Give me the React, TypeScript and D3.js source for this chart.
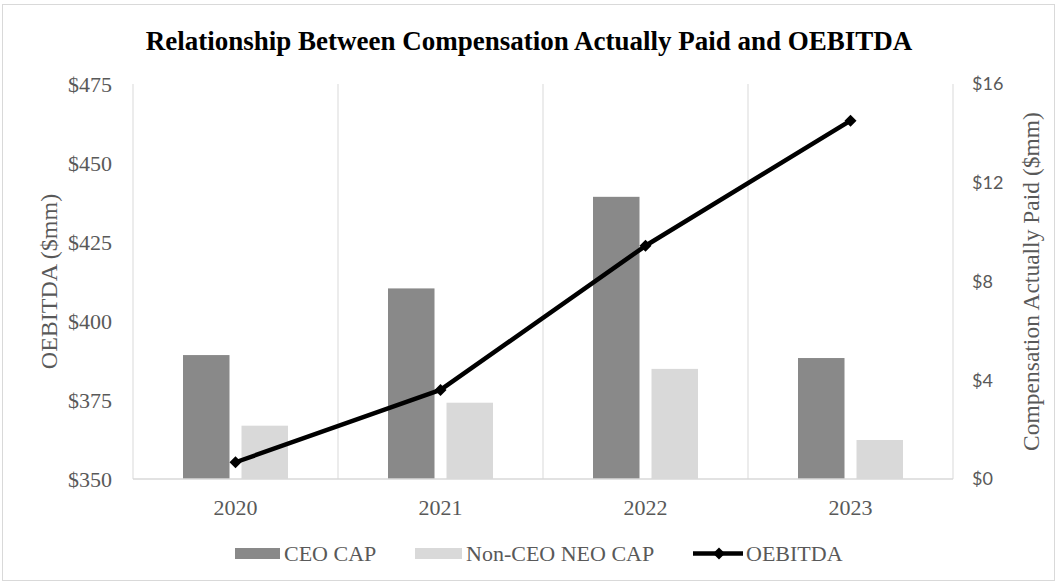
import React, { useRef, useEffect } from 'react'
import * as d3 from 'd3'

const years = ['2020', '2021', '2022', '2023']
const ceoCap = [5.02, 7.72, 11.43, 4.9]
const nonCeoCap = [2.16, 3.09, 4.46, 1.58]
const oebitda = [355.3, 378.2, 423.8, 463.4]
const leftTicks = [350, 375, 400, 425, 450, 475]
const rightTicks = [0, 4, 8, 12, 16]

const W = 1058
const H = 584
const serif = '"Liberation Serif", "Times New Roman", serif'
const sans = 'Lato, "Open Sans", sans-serif'

const App: React.FC = () => {
  const svgRef = useRef<SVGSVGElement>(null)

  useEffect(() => {
    if (!svgRef.current) return
    const svg = d3.select(svgRef.current)
    svg.selectAll('*').remove()

    const left = 133, right = 953, top = 84, bottom = 479

    const x = d3.scaleBand<string>().domain(years).range([left, right]).paddingInner(0)
    const sub = d3.scaleBand<string>().domain(['ceo', 'non']).range([50, 155]).paddingInner(0.205)
    const yL = d3.scaleLinear().domain([350, 475]).range([bottom, top])
    const yR = d3.scaleLinear().domain([0, 16]).range([bottom, top])

    // outer frame
    svg.append('rect')
      .attr('x', 2.5).attr('y', 4.5)
      .attr('width', W - 6).attr('height', H - 8)
      .attr('fill', '#fff')
      .attr('stroke', '#d9d9d9')

    // title
    svg.append('text')
      .attr('x', 529).attr('y', 50)
      .attr('text-anchor', 'middle')
      .attr('font-family', serif)
      .attr('font-weight', 'bold')
      .attr('font-size', 27)
      .attr('fill', '#000')
      .text('Relationship Between Compensation Actually Paid and OEBITDA')

    // vertical gridlines at category boundaries
    const bounds = years.map(y => x(y)!).concat([right])
    svg.append('g').selectAll('line')
      .data(bounds)
      .enter().append('line')
      .attr('x1', d => d).attr('x2', d => d)
      .attr('y1', top).attr('y2', bottom)
      .attr('stroke', '#d9d9d9')
      .attr('stroke-width', 1)

    // bars
    const groups = svg.append('g').selectAll('g')
      .data(years)
      .enter().append('g')
      .attr('transform', d => `translate(${x(d)},0)`)

    groups.append('rect')
      .attr('x', sub('ceo')!)
      .attr('width', sub.bandwidth())
      .attr('y', (d, i) => yR(ceoCap[i]))
      .attr('height', (d, i) => bottom - yR(ceoCap[i]))
      .attr('fill', '#898989')

    groups.append('rect')
      .attr('x', sub('non')!)
      .attr('width', sub.bandwidth())
      .attr('y', (d, i) => yR(nonCeoCap[i]))
      .attr('height', (d, i) => bottom - yR(nonCeoCap[i]))
      .attr('fill', '#d9d9d9')

    // baseline
    svg.append('line')
      .attr('x1', left).attr('x2', right)
      .attr('y1', bottom).attr('y2', bottom)
      .attr('stroke', '#d9d9d9')
      .attr('stroke-width', 1.5)

    // OEBITDA line
    const cx = (d: string) => x(d)! + x.bandwidth() / 2
    const line = d3.line<number>()
      .x((d, i) => cx(years[i]))
      .y(d => yL(d))
    svg.append('path')
      .datum(oebitda)
      .attr('d', line)
      .attr('fill', 'none')
      .attr('stroke', '#000')
      .attr('stroke-width', 4.5)
      .attr('stroke-linejoin', 'round')

    const diamond = d3.symbol().type(d3.symbolSquare).size(72)
    svg.append('g').selectAll('path')
      .data(oebitda)
      .enter().append('path')
      .attr('d', diamond)
      .attr('transform', (d, i) => `translate(${cx(years[i])},${yL(d)}) rotate(45)`)
      .attr('fill', '#000')

    // left axis labels
    svg.append('g').selectAll('text')
      .data(leftTicks)
      .enter().append('text')
      .attr('x', 112).attr('y', d => yL(d))
      .attr('dy', '0.35em')
      .attr('text-anchor', 'end')
      .attr('font-family', serif)
      .attr('font-size', 22)
      .attr('fill', '#595959')
      .text(d => `$${d}`)

    // right axis labels
    svg.append('g').selectAll('text')
      .data(rightTicks)
      .enter().append('text')
      .attr('x', 972).attr('y', d => yR(d))
      .attr('dy', '0.35em')
      .attr('text-anchor', 'start')
      .attr('font-family', sans)
      .attr('font-size', 18)
      .attr('fill', '#595959')
      .text(d => `$${d}`)

    // x labels
    svg.append('g').selectAll('text')
      .data(years)
      .enter().append('text')
      .attr('x', d => cx(d)).attr('y', 507)
      .attr('dy', '0.35em')
      .attr('text-anchor', 'middle')
      .attr('font-family', serif)
      .attr('font-size', 22)
      .attr('fill', '#595959')
      .text(d => d)

    // axis titles
    svg.append('text')
      .attr('transform', `translate(49,${(top + bottom) / 2}) rotate(-90)`)
      .attr('text-anchor', 'middle')
      .attr('dy', '0.35em')
      .attr('font-family', serif)
      .attr('font-size', 24)
      .attr('fill', '#595959')
      .text('OEBITDA ($mm)')

    svg.append('text')
      .attr('transform', `translate(1031,${(top + bottom) / 2}) rotate(-90)`)
      .attr('text-anchor', 'middle')
      .attr('dy', '0.35em')
      .attr('font-family', serif)
      .attr('font-size', 23.5)
      .attr('fill', '#595959')
      .text('Compensation Actually Paid ($mm)')

    // legend
    const legendY = 553.5
    const fs = 22
    const lg = svg.append('g')
    lg.append('rect').attr('x', 235).attr('y', legendY - 5.5).attr('width', 45).attr('height', 11).attr('fill', '#898989')
    lg.append('text').attr('x', 284).attr('y', legendY).attr('dy', '0.35em')
      .attr('font-family', serif).attr('font-size', fs).attr('fill', '#595959').text('CEO CAP')
    lg.append('rect').attr('x', 415).attr('y', legendY - 5.5).attr('width', 47).attr('height', 11).attr('fill', '#d9d9d9')
    lg.append('text').attr('x', 466).attr('y', legendY).attr('dy', '0.35em')
      .attr('font-family', serif).attr('font-size', fs).attr('fill', '#595959').text('Non-CEO NEO CAP')
    lg.append('line').attr('x1', 693).attr('x2', 743).attr('y1', legendY).attr('y2', legendY)
      .attr('stroke', '#000').attr('stroke-width', 4.5)
    lg.append('path').attr('d', diamond).attr('transform', `translate(719,${legendY}) rotate(45)`).attr('fill', '#000')
    lg.append('text').attr('x', 746).attr('y', legendY).attr('dy', '0.35em')
      .attr('font-family', serif).attr('font-size', fs).attr('fill', '#595959').text('OEBITDA')
  }, [])

  return (
    <svg
      ref={svgRef}
      width={W}
      height={H}
      style={{ position: 'absolute', left: 0, top: 0, background: '#fff' }}
    />
  )
}

export default App
